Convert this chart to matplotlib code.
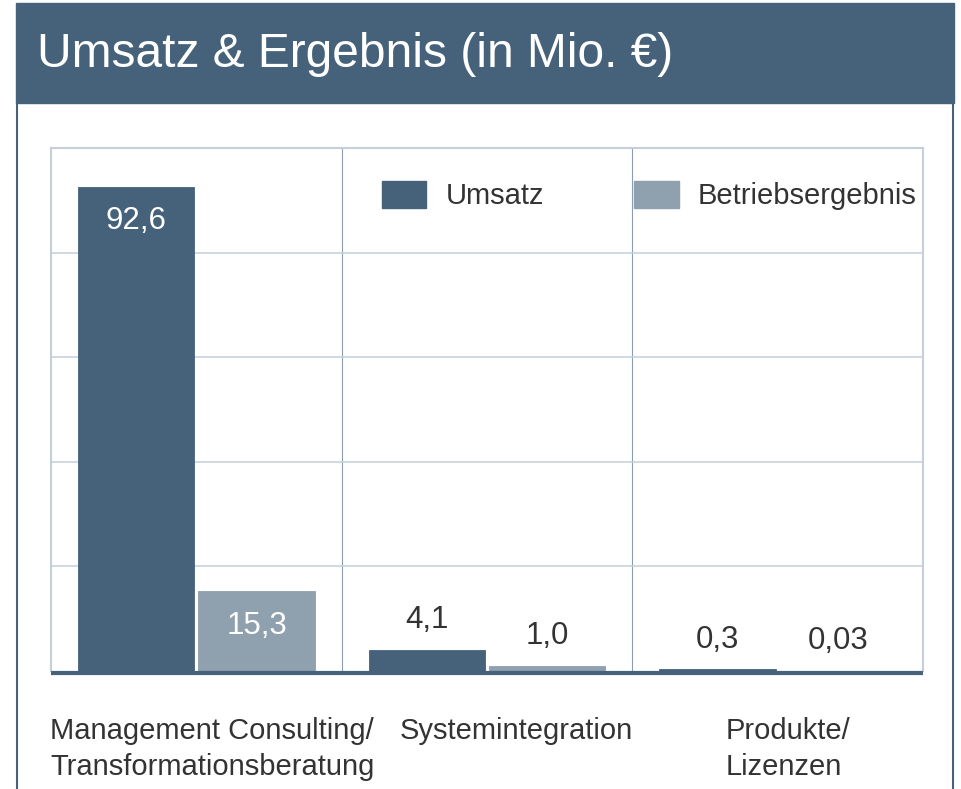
import matplotlib
matplotlib.use('Agg')
import matplotlib.pyplot as plt
from matplotlib.patches import Rectangle, Patch
from matplotlib.lines import Line2D
from matplotlib.transforms import ScaledTranslation
import numpy as np

plt.rcParams['font.family'] = ['Liberation Sans', 'DejaVu Sans']

categories = ['Management Consulting/\nTransformationsberatung', 'Systemintegration', 'Produkte/\nLizenzen']
umsatz = [92.6, 4.1, 0.3]
ergebnis = [15.3, 1.0, 0.03]
umsatz_labels = ['92,6', '4,1', '0,3']
ergebnis_labels = ['15,3', '1,0', '0,03']

dark = '#46627b'
light = '#8fa0af'
grid_c = '#c4cfd9'
div_c = '#8b9db0'
txt = '#333333'

W, H = 961, 789
fig = plt.figure(figsize=(W / 100, H / 100), dpi=100)

def px(x0, y0, x1, y1):
    # pixel box (top-left origin) -> figure fraction rect
    return [x0 / W, 1 - y1 / H, (x1 - x0) / W, (y1 - y0) / H]

# header band + frame
fig.patches.append(Rectangle((16 / W, 1 - 103 / H), (954 - 16) / W, 100 / H,
                             transform=fig.transFigure, color=dark, zorder=0))
for xx in (16.5, 953):
    fig.lines.append(Line2D([xx / W, xx / W], [0, 1 - 103 / H], transform=fig.transFigure,
                            color=dark, lw=1.5))
fig.text(37 / W, 1 - 67 / H, 'Umsatz & Ergebnis (in Mio. \u20ac)', color='white',
         fontsize=34.5, va='baseline', ha='left')

ax = fig.add_axes(px(51, 148, 923, 671))
x = np.arange(len(categories))
w = 0.4
b1 = ax.bar(x - 0.207, umsatz, w, color=dark, edgecolor=dark, lw=0.6, zorder=3)
b2 = ax.bar(x + 0.207, ergebnis, w, color=light, edgecolor=light, lw=0.6, zorder=3)

ax.set_xlim(-0.5, 2.5)
ax.set_ylim(0, 100)
ax.set_yticks([20, 40, 60, 80])
ax.yaxis.grid(True, color=grid_c, lw=1.1, zorder=0)
ax.set_xticks([])
ax.tick_params(left=False, labelleft=False)
for s in ('top', 'left', 'right'):
    ax.spines[s].set_color(grid_c)
    ax.spines[s].set_linewidth(1.5)
ax.spines['bottom'].set_visible(False)
for xb in (0.5, 1.5):
    ax.axvline(xb, color=div_c, lw=0.8, zorder=1)
# thick baseline just below the bars
ax.plot([0, 1], [0, 0], transform=ax.transAxes + ScaledTranslation(0, -2.2 / 100, fig.dpi_scale_trans),
        color=dark, lw=3, zorder=4, clip_on=False, solid_capstyle='butt')

# value labels
for bars, labs in ((b1, umsatz_labels), (b2, ergebnis_labels)):
    for r, lab in zip(bars, labs):
        h = r.get_height()
        cx = r.get_x() + r.get_width() / 2
        if h > 10:
            ax.annotate(lab, (cx, h), xytext=(0, -25), textcoords='offset points',
                        ha='center', va='center', color='white', fontsize=22.5, zorder=5)
        else:
            ax.annotate(lab, (cx, h), xytext=(0, 21.5), textcoords='offset points',
                        ha='center', va='center', color=txt, fontsize=22.5, zorder=5)

# category labels
label_x = [-0.503, 0.70, 1.822]
for lx, cat in zip(label_x, categories):
    ax.text(lx, -0.087, cat, transform=ax.get_xaxis_transform(), ha='left', va='top',
            fontsize=21, color=txt, linespacing=1.4, multialignment='left')

handles = [Patch(color=dark), Patch(color=light)]
fig.legend(handles, ['Umsatz', 'Betriebsergebnis'], loc='upper left',
           bbox_to_anchor=(382 / W, 1 - 181 / H), bbox_transform=fig.transFigure,
           ncol=2, frameon=False, fontsize=21, handlelength=1.52, handleheight=1.05,
           handletextpad=0.65, columnspacing=3.1, borderpad=0, borderaxespad=0,
           labelcolor=txt)

fig.savefig('out.png', dpi=100)
